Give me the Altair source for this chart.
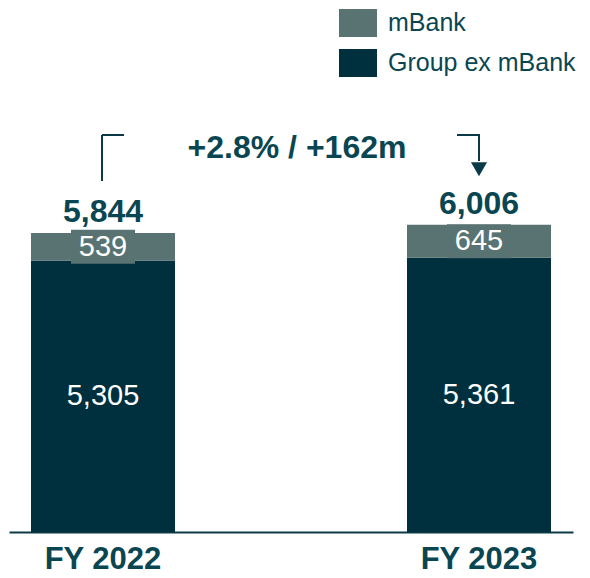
import altair as alt
import pandas as pd

# ---- data ----
years = ["FY 2022", "FY 2023"]
segments = ["Group ex mBank", "mBank"]
group_ex_mbank = [5305, 5361]
mbank = [539, 645]
totals = [5844, 6006]
change_label = "+2.8% / +162m"

# connector levels (in data units)
conn_top = 7760
conn_left_bottom = 6861
conn_right_bottom = 7250
arrow_level = 7090
change_level = 7310

DARK = "#002F3D"
GREY = "#587372"
TXT = "#0A4652"
LINE = "#0B3A47"
FONT = "Liberation Sans"

rows = []
for i, y in enumerate(years):
    rows.append({"year": y, "segment": "Group ex mBank", "value": group_ex_mbank[i], "order": 0})
    rows.append({"year": y, "segment": "mBank", "value": mbank[i], "order": 1})
df = pd.DataFrame(rows)
tot_df = pd.DataFrame({"year": years, "total": totals})

xenc = alt.X("year:N", title=None,
             scale=alt.Scale(paddingInner=0.617, paddingOuter=0.0585),
             sort=years)
yscale = alt.Scale(domain=[0, 10242], nice=False)

bars = alt.Chart(df).mark_bar().encode(
    x=xenc,
    y=alt.Y("value:Q", stack="zero", scale=yscale, axis=None),
    color=alt.Color("segment:N",
                    scale=alt.Scale(domain=["mBank", "Group ex mBank"], range=[GREY, DARK]),
                    legend=alt.Legend(title=None, orient="none", legendX=330, legendY=-4,
                                      symbolType="M-1,-0.737H1V0.737H-1Z", symbolSize=1444,
                                      symbolStrokeWidth=0, symbolOpacity=1,
                                      labelFont=FONT, labelFontSize=25, labelColor=TXT,
                                      labelOffset=11, labelLimit=400, rowPadding=6, padding=0)),
    order=alt.Order("order:Q"),
)

stacked = alt.Chart(df).transform_stack(
    stack="value", groupby=["year"], as_=["v0", "v1"], sort=[alt.SortField("order")]
).transform_calculate(mid="(datum.v0 + datum.v1) / 2")

label_box = stacked.transform_filter("datum.segment == 'mBank'").mark_point(
    shape="M-1,-0.53H1V0.53H-1Z", size=4096, filled=True, opacity=1, color=GREY, strokeWidth=0
).encode(x=alt.X("year:N", title=None), y=alt.Y("mid:Q", axis=None))

labels = stacked.mark_text(font=FONT, fontSize=29, color="white", baseline="middle").encode(
    x=alt.X("year:N", title=None),
    y=alt.Y("mid:Q", axis=None),
    text=alt.Text("value:Q", format=","),
)

total_text = alt.Chart(tot_df).mark_text(
    font=FONT, fontSize=32, fontWeight="bold", color=TXT, baseline="alphabetic", dy=-11
).encode(
    x=alt.X("year:N", title=None),
    y=alt.Y("total:Q", axis=None),
    text=alt.Text("total:Q", format=","),
)

conn_df = pd.DataFrame({
    "year": years,
    "top": [conn_top, conn_top],
    "bottom": [conn_left_bottom, conn_right_bottom],
    "arrow": [None, arrow_level],
})

vrule_left = alt.Chart(conn_df).transform_filter("datum.year == 'FY 2022'").mark_rule(
    color=LINE, strokeWidth=2, xOffset=-1
).encode(x=alt.X("year:N", title=None), y=alt.Y("top:Q", axis=None), y2="bottom:Q")

vrule_right = alt.Chart(conn_df).transform_filter("datum.year == 'FY 2023'").mark_rule(
    color=LINE, strokeWidth=2
).encode(x=alt.X("year:N", title=None), y=alt.Y("top:Q", axis=None), y2="bottom:Q")

htick_left = alt.Chart(conn_df).transform_filter("datum.year == 'FY 2022'").mark_tick(
    color=LINE, thickness=2, size=22, xOffset=10, opacity=1
).encode(x=alt.X("year:N", title=None), y=alt.Y("top:Q", axis=None))

htick_right = alt.Chart(conn_df).transform_filter("datum.year == 'FY 2023'").mark_tick(
    color=LINE, thickness=2, size=23, xOffset=-10.5, opacity=1
).encode(x=alt.X("year:N", title=None), y=alt.Y("top:Q", axis=None))

arrow = alt.Chart(conn_df).transform_filter("datum.year == 'FY 2023'").mark_point(
    shape="triangle-down", size=260, filled=True, opacity=1, color=LINE, strokeWidth=0
).encode(x=alt.X("year:N", title=None), y=alt.Y("arrow:Q", axis=None))

change_df = pd.DataFrame({"label": [change_label], "level": [change_level]})
change_text = alt.Chart(change_df).mark_text(
    font=FONT, fontSize=32, fontWeight="bold", color=TXT, baseline="alphabetic", dx=6
).encode(y=alt.Y("level:Q", axis=None), text="label:N")

chart = alt.layer(
    bars, label_box, labels, total_text,
    vrule_left, vrule_right, htick_left, htick_right, arrow, change_text
).properties(
    width=564, height=524,
    autosize=alt.AutoSizeParams(type="none"),
    padding={"left": 1, "top": 0, "right": 8, "bottom": 46},
    background="white",
).configure_view(stroke=None).configure_axisX(
    domainColor=LINE, domainWidth=2, ticks=False, labelAngle=0,
    labelFont=FONT, labelFontSize=31, labelFontWeight="bold", labelColor=TXT,
    labelPadding=12, grid=False,
)

chart.save("out.html", embed_options={"renderer": "svg", "actions": False})
